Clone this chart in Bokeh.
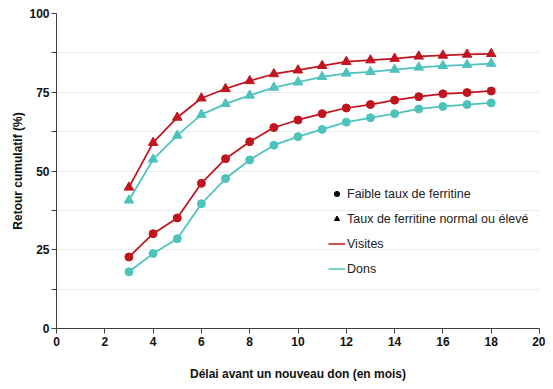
from bokeh.plotting import figure
from bokeh.models import FixedTicker, Legend, LegendItem, ColumnDataSource
from bokeh.embed import file_html
from bokeh.resources import INLINE

months = [3, 4, 5, 6, 7, 8, 9, 10, 11, 12, 13, 14, 15, 16, 17, 18]
visites_normal = [44.8, 59.0, 67.0, 73.1, 76.1, 78.6, 80.8, 82.0, 83.4, 84.7, 85.2, 85.7, 86.4, 86.7, 87.0, 87.2]
dons_normal = [40.7, 53.7, 61.3, 67.9, 71.3, 74.0, 76.5, 78.2, 79.9, 81.0, 81.5, 82.2, 82.9, 83.4, 83.7, 84.1]
visites_faible = [22.7, 30.1, 35.1, 46.1, 53.9, 59.3, 63.8, 66.2, 68.2, 70.0, 71.1, 72.5, 73.6, 74.5, 74.9, 75.4]
dons_faible = [18.0, 23.8, 28.5, 39.6, 47.6, 53.5, 58.2, 60.9, 63.2, 65.5, 66.9, 68.2, 69.7, 70.5, 71.1, 71.6]

x_ticks = [0, 2, 4, 6, 8, 10, 12, 14, 16, 18, 20]
y_ticks = [0, 25, 50, 75, 100]
y_minor = [12.5, 37.5, 62.5, 87.5]
grid_lines = [12.5, 25, 37.5, 50, 62.5, 75, 87.5, 100]

RED = "#C0141E"
TEAL = "#4EC3BC"
FONT = "Liberation Sans"

p = figure(width=545, height=384, output_backend="svg", toolbar_location=None,
           x_range=(0, 20), y_range=(0, 100),
           min_border_left=56, min_border_right=6, min_border_top=13, min_border_bottom=56)
p.outline_line_color = None
p.background_fill_color = "white"

src = ColumnDataSource(dict(x=months, vn=visites_normal, dn=dons_normal,
                            vf=visites_faible, df=dons_faible))

for col, color, marker, size in [("vn", RED, "triangle", 9.5), ("dn", TEAL, "triangle", 9.5),
                                 ("vf", RED, "circle", 8), ("df", TEAL, "circle", 8)]:
    p.line("x", col, source=src, line_color=color, line_width=1.75)
    p.scatter("x", col, source=src, marker=marker, size=size,
              fill_color=color, line_color=color)

# axes
p.xaxis.ticker = FixedTicker(ticks=x_ticks)
p.yaxis.ticker = FixedTicker(ticks=y_ticks, minor_ticks=y_minor)
for ax in (p.xaxis[0], p.yaxis[0]):
    ax.axis_line_color = "#404040"
    ax.major_tick_line_color = "#404040"
    ax.minor_tick_line_color = "#404040"
    ax.major_tick_in = 0
    ax.major_tick_out = 5
    ax.minor_tick_in = 0
    ax.minor_tick_out = 5
    ax.major_label_text_font = FONT
    ax.major_label_text_font_style = "bold"
    ax.major_label_text_font_size = "12px"
    ax.major_label_text_color = "#111111"
    ax.axis_label_text_font = FONT
    ax.axis_label_text_font_style = "bold"
    ax.axis_label_text_font_size = "12px"
    ax.axis_label_text_color = "#111111"
    ax.major_label_standoff = 3
p.xaxis.minor_tick_out = 0
p.xaxis.axis_label = "Délai avant un nouveau don (en mois)"
p.yaxis.axis_label = "Retour cumulatif (%)"
p.xaxis.axis_label_standoff = 18
p.yaxis.axis_label_standoff = 1
p.yaxis.major_label_standoff = 2

p.xgrid.grid_line_color = None
p.ygrid.ticker = FixedTicker(ticks=grid_lines)
p.ygrid.grid_line_color = "#ececec"
p.ygrid.grid_line_width = 1

# legend proxy renderers (NaN data, draw nothing in the plot)
nan = float("nan")
r_c = p.scatter(x=[nan], y=[nan], marker="circle", size=6, fill_color="black", line_color="black")
r_t = p.scatter(x=[nan], y=[nan], marker="triangle", size=6, fill_color="black", line_color="black")
r_v = p.line(x=[nan, nan], y=[nan, nan], line_color=RED, line_width=1.5)
r_d = p.line(x=[nan, nan], y=[nan, nan], line_color=TEAL, line_width=1.5)

legend = Legend(items=[
    LegendItem(label="Faible taux de ferritine", renderers=[r_c]),
    LegendItem(label="Taux de ferritine normal ou élevé", renderers=[r_t]),
    LegendItem(label="Visites", renderers=[r_v]),
    LegendItem(label="Dons", renderers=[r_d]),
], location=(272, 49), border_line_color=None, background_fill_alpha=0,
    label_text_font=FONT, label_text_font_size="12.5px", label_text_color="#222222",
    glyph_width=17, glyph_height=13, label_height=21, spacing=4, padding=0,
    label_standoff=2, margin=0)
p.add_layout(legend, "center")

open("out.html", "w").write(file_html(p, INLINE))
